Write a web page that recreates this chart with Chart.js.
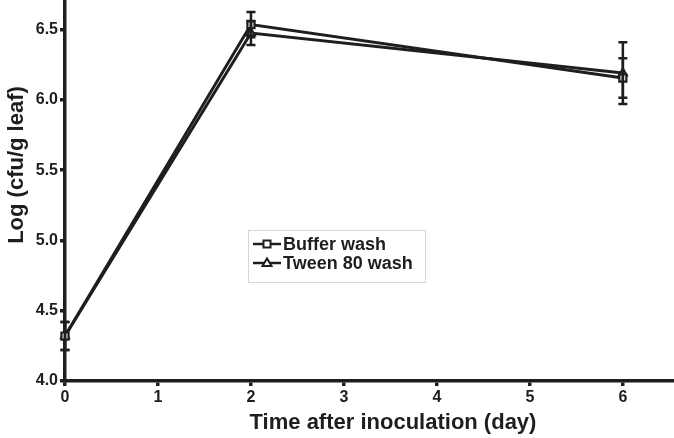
<!DOCTYPE html>
<html><head><meta charset="utf-8">
<script src="https://cdn.jsdelivr.net/npm/chart.js@4/dist/chart.umd.min.js"></script>
<style>html,body{margin:0;padding:0;background:#fff;}canvas{display:block;}</style>
</head><body>
<canvas id="c" width="674" height="438"></canvas>
<script>
const days = [0, 2, 6];
const bufferMean = [4.32, 6.535, 6.155];
const bufferErr = [0.10, 0.09, 0.14];
const tweenMean = [4.32, 6.475, 6.19];
const tweenErr = [0.10, 0.085, 0.22];
const seriesNames = ['Buffer wash', 'Tween 80 wash'];
const yTicks = [4.0, 4.5, 5.0, 5.5, 6.0, 6.5];
const xTicks = [0, 1, 2, 3, 4, 5, 6];
const xTitle = 'Time after inoculation (day)';
const yTitle = 'Log (cfu/g leaf)';

const INK = '#1e1e1e';
const FONT = '"Liberation Sans", Arial, sans-serif';

const errorBars = {
  id: 'errorBars',
  afterDatasetsDraw(chart) {
    const ctx = chart.ctx, xs = chart.scales.x, ys = chart.scales.y;
    ctx.save();
    ctx.strokeStyle = INK; ctx.lineWidth = 2.5;
    chart.data.datasets.forEach(ds => {
      ds.data.forEach((p, i) => {
        const e = ds.errors[i];
        const x = xs.getPixelForValue(p.x);
        const y1 = ys.getPixelForValue(p.y + e), y2 = ys.getPixelForValue(p.y - e);
        ctx.beginPath();
        ctx.moveTo(x, y1); ctx.lineTo(x, y2);
        ctx.moveTo(x - 4.5, y1); ctx.lineTo(x + 4.5, y1);
        ctx.moveTo(x - 4.5, y2); ctx.lineTo(x + 4.5, y2);
        ctx.stroke();
      });
    });
    ctx.restore();
  }
};

const decorations = {
  id: 'decorations',
  afterDraw(chart) {
    const ctx = chart.ctx;
    ctx.save();
    ctx.fillStyle = INK;
    ctx.font = 'bold 22px ' + FONT;
    ctx.textAlign = 'center'; ctx.textBaseline = 'alphabetic';
    ctx.fillText(xTitle, 393, 429);
    ctx.save();
    ctx.translate(23, 165); ctx.rotate(-Math.PI / 2);
    ctx.fillText(yTitle, 0, 0);
    ctx.restore();
    const bx = 248, by = 230, bw = 177, bh = 52;
    ctx.strokeStyle = '#d6d6d6'; ctx.lineWidth = 1;
    ctx.strokeRect(bx + 0.5, by + 0.5, bw, bh);
    ctx.font = 'bold 18px ' + FONT;
    ctx.textAlign = 'left'; ctx.textBaseline = 'middle';
    const rows = [244, 263];
    chart.data.datasets.forEach((ds, i) => {
      const y = rows[i];
      ctx.strokeStyle = INK; ctx.lineWidth = 2.5;
      ctx.beginPath(); ctx.moveTo(bx + 5, y); ctx.lineTo(bx + 33, y); ctx.stroke();
      ctx.fillStyle = '#fff'; ctx.lineWidth = 2;
      const cx = bx + 19;
      if (i === 0) {
        ctx.fillRect(cx - 3.5, y - 3.5, 7, 7); ctx.strokeRect(cx - 3.5, y - 3.5, 7, 7);
      } else {
        ctx.beginPath(); ctx.moveTo(cx, y - 4.5); ctx.lineTo(cx + 4.5, y + 3); ctx.lineTo(cx - 4.5, y + 3); ctx.closePath();
        ctx.fill(); ctx.stroke();
      }
      ctx.fillStyle = INK;
      ctx.fillText(seriesNames[i], bx + 35, y + 1);
    });
    ctx.restore();
  }
};

function zeroPad(s) { s.paddingTop = 0; s.paddingBottom = 0; s.paddingLeft = 0; s.paddingRight = 0; }

new Chart(document.getElementById('c'), {
  type: 'line',
  data: {
    datasets: [
      { label: seriesNames[0], data: days.map((d, i) => ({x: d, y: bufferMean[i]})), errors: bufferErr,
        borderColor: INK, borderWidth: 3, pointStyle: 'rect', pointRadius: 5, pointBackgroundColor: '#fff',
        pointBorderColor: INK, pointBorderWidth: 2.2, tension: 0, clip: false },
      { label: seriesNames[1], data: days.map((d, i) => ({x: d, y: tweenMean[i]})), errors: tweenErr,
        borderColor: INK, borderWidth: 3, pointStyle: 'triangle', pointRadius: 4.5, pointBackgroundColor: '#fff',
        pointBorderColor: INK, pointBorderWidth: 2.2, tension: 0, clip: false }
    ]
  },
  options: {
    responsive: false, animation: false,
    layout: { padding: 0, autoPadding: false },
    plugins: { legend: { display: false }, tooltip: { enabled: false } },
    scales: {
      x: {
        type: 'linear', min: 0, max: 6.55,
        afterFit(s) { s.height = 57; zeroPad(s); },
        afterBuildTicks(s) { s.ticks = xTicks.map(v => ({value: v})); },
        ticks: { includeBounds: false, color: INK, font: { family: FONT, size: 16, weight: 'bold' }, padding: 2 },
        grid: { drawOnChartArea: false, drawTicks: true, tickLength: 5, lineWidth: 3.5, color: INK },
        border: { display: true, width: 3.5, color: INK },
        title: { display: false }
      },
      y: {
        type: 'linear', min: 4.0, max: 6.71,
        afterFit(s) { s.width = 65; zeroPad(s); },
        afterBuildTicks(s) { s.ticks = yTicks.map(v => ({value: v})); },
        ticks: { includeBounds: false, color: INK, font: { family: FONT, size: 16, weight: 'bold' }, padding: 2,
          callback: v => Number(v).toFixed(1) },
        grid: { drawOnChartArea: false, drawTicks: true, tickLength: 5, lineWidth: 3.5, color: INK },
        border: { display: true, width: 3.5, color: INK },
        title: { display: false }
      }
    }
  },
  plugins: [errorBars, decorations]
});
</script>
</body></html>
